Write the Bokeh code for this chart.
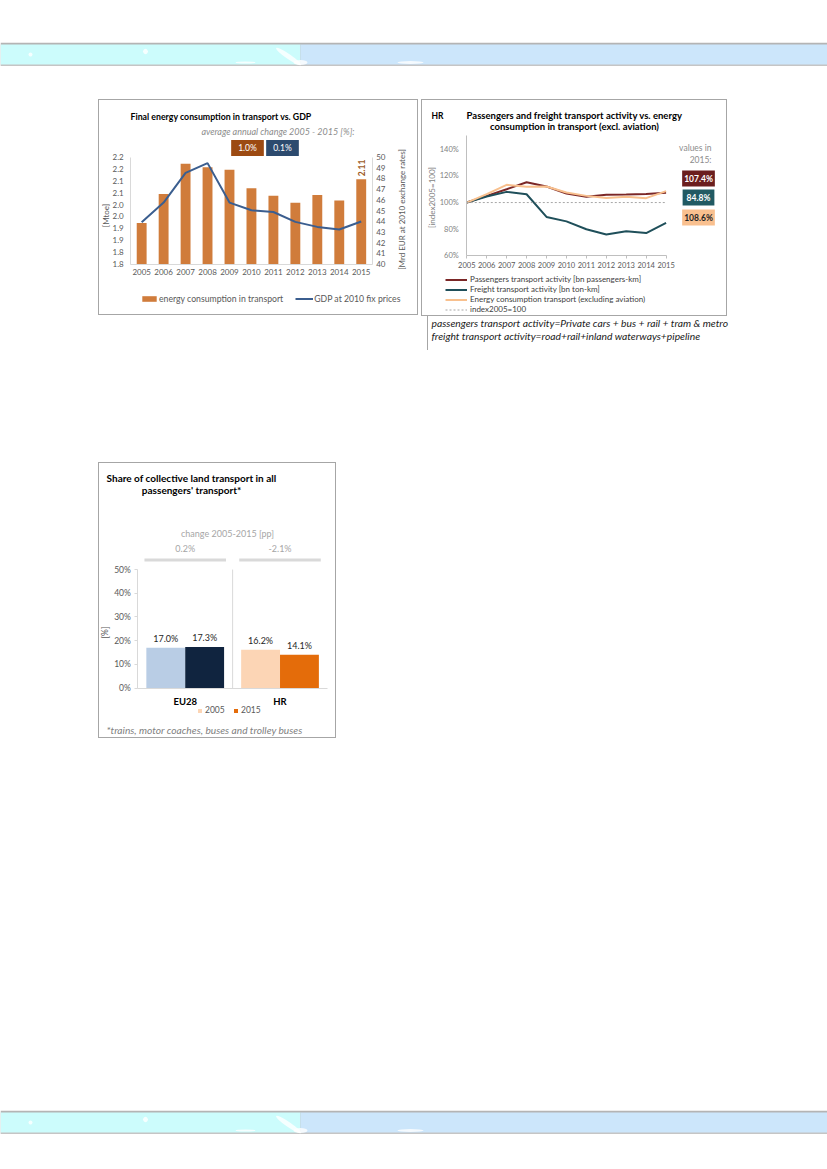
import math
from bokeh.plotting import figure
from bokeh.models import (Range1d, LinearAxis, FixedTicker, Label, Legend, LegendItem,
                          ColumnDataSource, Spacer, PrintfTickFormatter)
from bokeh.layouts import column, row
from bokeh.transform import dodge
from bokeh.core.properties import value
from bokeh.embed import file_html
from bokeh.resources import INLINE

FONT = "Lato"

# ---------------- data: chart 1 (energy vs GDP) ----------------
years = [2005, 2006, 2007, 2008, 2009, 2010, 2011, 2012, 2013, 2014, 2015]
energy_mtoe = [1.923, 2.044, 2.172, 2.157, 2.146, 2.069, 2.037, 2.008, 2.040, 2.017, 2.106]
gdp_bn_eur = [43.91, 45.74, 48.52, 49.43, 45.74, 45.02, 44.86, 43.94, 43.47, 43.22, 43.97]
mtoe_ticks = [1.75, 1.80, 1.85, 1.90, 1.95, 2.00, 2.05, 2.10, 2.15, 2.20]
mtoe_tick_labels = ["1.8", "1.8", "1.9", "1.9", "2.0", "2.0", "2.1", "2.1", "2.2", "2.2"]
gdp_ticks = [40, 41, 42, 43, 44, 45, 46, 47, 48, 49, 50]
avg_change = ["1.0%", "0.1%"]

# ---------------- data: chart 2 (activity index) ----------------
passengers_idx = [100, 105.0, 110.0, 115.2, 112.0, 106.8, 104.3, 105.8, 106.0, 106.5, 107.4]
freight_idx = [100, 104.5, 108.0, 106.2, 89.2, 85.9, 80.0, 76.0, 78.5, 77.1, 84.8]
energy_idx = [100, 106.3, 113.3, 111.8, 112.0, 107.5, 105.0, 103.5, 104.3, 103.3, 108.6]
index_base = [100, 100, 100, 100, 100, 100, 100, 100, 100, 100, 100]
idx_ticks = [60, 80, 100, 120, 140]

# ---------------- data: chart 3 (collective transport share) ----------------
regions = ["EU28", "HR"]
share_2005 = [17.0, 16.2]
share_2015 = [17.3, 14.1]
change_pp = ["0.2%", "-2.1%"]
share_ticks = [0, 10, 20, 30, 40, 50]

BORDER = {"border": "1px solid #a6a6a6"}
GRAY = "#595959"


def span_range(lo, hi, px_before, px_data, px_after):
    """Range whose [lo, hi] part occupies px_data pixels, with margins around it."""
    k = (hi - lo) / px_data
    return Range1d(lo - px_before * k, hi + px_after * k)


def lab(p, x, y, text, size="8px", style="normal", color="#000000", align="left",
        angle=0.0, bg=None, pad=0):
    kw = dict(x=x, y=y, x_units="screen", y_units="screen", text=text,
              text_font=FONT, text_font_size=size, text_font_style=style,
              text_color=color, text_align=align, text_baseline="middle", angle=angle)
    if bg is not None:
        kw.update(background_fill_color=bg, padding=pad)
    l = Label(**kw)
    p.add_layout(l)
    return l


def style_axis(ax, color="#d9d9d9", size="8px"):
    ax.axis_line_color = color
    ax.major_tick_line_color = None
    ax.minor_tick_line_color = None
    ax.major_tick_out = 0
    ax.major_tick_in = 0
    ax.minor_tick_out = 0
    ax.minor_tick_in = 0
    ax.major_label_text_font = FONT
    ax.major_label_text_font_size = size
    ax.major_label_text_color = GRAY


def base_fig(w, h, xr, yr):
    p = figure(width=w, height=h, x_range=xr, y_range=yr, output_backend="svg",
               toolbar_location=None, min_border=0)
    p.styles = BORDER
    p.outline_line_color = None
    p.grid.visible = False
    return p


# ======================= chart 1 =======================
p1 = base_fig(320, 216, span_range(2004.5, 2015.5, 31, 240, 47),
              span_range(1.75, 2.20, 52, 106, 56))
p1.extra_y_ranges = {"gdp": span_range(40, 50, 52, 106, 56)}

src1 = ColumnDataSource(dict(year=years, energy=energy_mtoe, gdp=gdp_bn_eur))
bars1 = p1.vbar(x="year", top="energy", bottom=mtoe_ticks[0], width=0.45, source=src1,
                fill_color="#d07c3b", line_color=None)
line1 = p1.line(x="year", y="gdp", source=src1, y_range_name="gdp",
                line_color="#3b5e8f", line_width=2)
p1.text(x=[years[-1]], y=[energy_mtoe[-1]], text=[f"{energy_mtoe[-1]:.2f}"],
        angle=math.pi / 2, text_align="left", text_baseline="middle", y_offset=-3,
        text_font=value(FONT), text_font_size="8.5px", text_font_style="bold",
        text_color="#9c5a1e")

xa1 = p1.xaxis[0]
xa1.ticker = FixedTicker(ticks=years)
xa1.fixed_location = mtoe_ticks[0]
xa1.bounds = (2004.5, 2015.5)
style_axis(xa1)
xa1.major_label_standoff = 5
ya1 = p1.yaxis[0]
ya1.ticker = FixedTicker(ticks=mtoe_ticks)
ya1.major_label_overrides = {t: s for t, s in zip(mtoe_ticks, mtoe_tick_labels)}
ya1.fixed_location = 2004.5
ya1.bounds = (mtoe_ticks[0], mtoe_ticks[-1])
style_axis(ya1)
ya1.major_label_standoff = 7
ra1 = LinearAxis(y_range_name="gdp", ticker=FixedTicker(ticks=gdp_ticks),
                 fixed_location=2015.5, bounds=(gdp_ticks[0], gdp_ticks[-1]))
style_axis(ra1)
ra1.major_label_standoff = 4
p1.add_layout(ra1, "right")

lab(p1, 31, 200, "Final energy consumption in transport vs. GDP", size="8.75px", style="bold")
lab(p1, 255, 185, "average annual change 2005 - 2015 [%]:", size="9px", style="italic",
    color="#8c8c8c", align="right")
lab(p1, 148, 168.5, avg_change[0], size="8.5px", color="white", align="center",
    bg="#9c4a12", pad=(7, 3))
lab(p1, 183, 168.5, avg_change[1], size="8.5px", color="white", align="center",
    bg="#2c4a6e", pad=(7, 3))
lab(p1, 6, 101, "[Mtoe]", size="8px", color=GRAY, align="center", angle=math.pi / 2)
lab(p1, 302, 107, "[Mrd EUR at 2010 exchange rates]", size="8px", color=GRAY,
    align="center", angle=math.pi / 2)

leg1 = Legend(items=[LegendItem(label="energy consumption in transport", renderers=[bars1]),
                     LegendItem(label="GDP at 2010 fix prices", renderers=[line1])],
              orientation="horizontal", location=(41, 12), glyph_width=18, glyph_height=7,
              label_height=9, label_standoff=1, spacing=12, padding=0, margin=0,
              border_line_color=None, background_fill_alpha=0,
              label_text_font=FONT, label_text_font_size="8.7px", label_text_color=GRAY)
p1.add_layout(leg1)

# ======================= chart 2 =======================
p2 = base_fig(306, 217, span_range(2005, 2015, 44, 198, 62), span_range(60, 150, 61, 119, 35))

src2 = ColumnDataSource(dict(year=years, pas=passengers_idx, fre=freight_idx,
                             ene=energy_idx, base=index_base))
l_pas = p2.line("year", "pas", source=src2, line_color="#7b2727", line_width=2)
l_fre = p2.line("year", "fre", source=src2, line_color="#1f4f5a", line_width=2)
l_ene = p2.line("year", "ene", source=src2, line_color="#f8c08e", line_width=2)
l_base = p2.line("year", "base", source=src2, line_color="#a6a6a6", line_width=1,
                 line_dash="2 2")

xa2 = p2.xaxis[0]
xa2.ticker = FixedTicker(ticks=years)
xa2.fixed_location = 60
xa2.bounds = (2005, 2015)
style_axis(xa2, color="#bfbfbf", size="7.5px")
xa2.major_tick_line_color = "#bfbfbf"
xa2.major_tick_out = 3
xa2.major_label_standoff = 3
ya2 = p2.yaxis[0]
ya2.ticker = FixedTicker(ticks=idx_ticks)
ya2.formatter = PrintfTickFormatter(format="%d%%")
ya2.fixed_location = 2005
ya2.bounds = (60, 150)
style_axis(ya2, color="#bfbfbf", size="7.5px")
ya2.major_label_text_color = "#7f7f7f"
ya2.major_label_standoff = 8

lab(p2, 9, 202, "HR", size="8.5px", style="bold")
lab(p2, 152, 202, "Passengers and freight transport activity vs. energy", size="9.5px",
    style="bold", align="center")
lab(p2, 152, 191, "consumption in transport (excl. aviation)", size="9.5px",
    style="bold", align="center")
lab(p2, 9, 120, "[index2005=100]", size="8px", color="#7f7f7f", align="center",
    angle=math.pi / 2)
lab(p2, 289, 170, "values in", size="8.5px", color="#8c8c8c", align="right")
lab(p2, 289, 158, f"{years[-1]}:", size="8.5px", color="#8c8c8c", align="right")
lab(p2, 276, 139, f"{passengers_idx[-1]:.1f}%", size="8.5px", style="bold", color="white",
    align="center", bg="#6b1e1e", pad=(2, 3))
lab(p2, 276, 120, f"{freight_idx[-1]:.1f}%", size="8.5px", style="bold", color="white",
    align="center", bg="#215a63", pad=(4, 3))
lab(p2, 276, 100, f"{energy_idx[-1]:.1f}%", size="8.5px", style="bold", color="#262626",
    align="center", bg="#f9c08f", pad=(2, 3))

leg2 = Legend(items=[LegendItem(label="Passengers transport activity [bn passengers-km]", renderers=[l_pas]),
                     LegendItem(label="Freight transport activity [bn ton-km]", renderers=[l_fre]),
                     LegendItem(label="Energy consumption transport (excluding aviation)", renderers=[l_ene]),
                     LegendItem(label="index2005=100", renderers=[l_base])],
              orientation="vertical", location=(23, 3), glyph_width=22, glyph_height=7,
              label_height=7, label_standoff=3, spacing=-2, padding=0, margin=0,
              border_line_color=None, background_fill_alpha=0,
              label_text_font=FONT, label_text_font_size="8px", label_text_color="#404040")
p2.add_layout(leg2)

# notes under chart 2
notes = figure(width=320, height=34, x_range=Range1d(0, 1), y_range=Range1d(0, 1),
               output_backend="svg", toolbar_location=None, min_border=0,
               x_axis_type=None, y_axis_type=None)
notes.grid.visible = False
notes.outline_line_color = None
notes.styles = {"border-left": "1px solid #a6a6a6"}
lab(notes, 3, 28, "passengers transport activity=Private cars + bus + rail + tram & metro",
    size="10.3px", style="italic", color="#1a1a1a")
lab(notes, 3, 15, "freight transport activity=road+rail+inland waterways+pipeline",
    size="10.3px", style="italic", color="#1a1a1a")

# ======================= chart 3 =======================
xpos = [i + 0.5 for i in range(len(regions))]
p3 = base_fig(238, 276, span_range(0, len(regions), 38, 188, 10),
              span_range(0, share_ticks[-1], 51, 117.7, 105.3))

src3 = ColumnDataSource(dict(x=xpos, region=regions, v05=share_2005, v15=share_2015,
                             c05=["#b9cde5", "#fcd5b5"], c15=["#10243f", "#e46c0a"],
                             t05=[f"{v:.1f}%" for v in share_2005],
                             t15=[f"{v:.1f}%" for v in share_2015],
                             chg=change_pp))
r05 = p3.vbar(x=dodge("x", -0.205), top="v05", width=0.41,
              source=src3, fill_color="c05", line_color=None)
r15 = p3.vbar(x=dodge("x", 0.205), top="v15", width=0.41,
              source=src3, fill_color="c15", line_color=None)
for key, off in (("05", -0.205), ("15", 0.205)):
    p3.text(x=dodge("x", off), y="v" + key, text="t" + key,
            source=src3, text_align="center", text_baseline="bottom", y_offset=-4,
            text_font=value(FONT), text_font_size="9px", text_color="#262626")
# category separator limited to the value scale
p3.segment(x0=[1], y0=[0], x1=[1], y1=[share_ticks[-1]], line_color="#d9d9d9", line_width=1)
# change labels above each group
p3.rect(x="x", y=54, width=0.86, height=3, height_units="screen", source=src3,
        fill_color="#d9d9d9", line_color=None)
p3.text(x="x", y=58.9, text="chg", source=src3, text_align="center",
        text_baseline="middle", text_font=value(FONT), text_font_size="9px",
        text_color="#a6a6a6")

xa3 = p3.xaxis[0]
xa3.ticker = FixedTicker(ticks=xpos)
xa3.major_label_overrides = {x: r for x, r in zip(xpos, regions)}
xa3.fixed_location = 0
xa3.bounds = (0, len(regions))
style_axis(xa3)
xa3.major_label_text_font_style = "bold"
xa3.major_label_text_color = "#000000"
xa3.major_label_text_font_size = "9.5px"
xa3.major_label_standoff = 8
ya3 = p3.yaxis[0]
ya3.ticker = FixedTicker(ticks=share_ticks)
ya3.formatter = PrintfTickFormatter(format="%d%%")
ya3.fixed_location = 0
ya3.bounds = (0, share_ticks[-1])
style_axis(ya3, size="8.5px")
ya3.major_tick_line_color = "#d9d9d9"
ya3.major_tick_out = 3
ya3.major_label_standoff = 4

lab(p3, 92, 262, "Share of collective land transport in all", size="10px", style="bold",
    align="center")
lab(p3, 92, 250, "passengers' transport*", size="10px", style="bold", align="center")
lab(p3, 128, 206, "change 2005-2015 [pp]", size="9px", color="#a6a6a6", align="center")
lab(p3, 5, 107, "[%]", size="8.5px", color=GRAY, align="center", angle=math.pi / 2)
lab(p3, 7, 10, "*trains, motor coaches, buses and trolley buses", size="10.2px",
    style="italic", color="#7f7f7f")

leg3 = Legend(items=[LegendItem(label="2005", renderers=[r05], index=1),
                     LegendItem(label="2015", renderers=[r15], index=1)],
              orientation="horizontal", location=(98, 24), glyph_width=5, glyph_height=5,
              label_height=8, label_standoff=3, spacing=8, padding=0, margin=0,
              border_line_color=None, background_fill_alpha=0,
              label_text_font=FONT, label_text_font_size="8.5px", label_text_color=GRAY)
p3.add_layout(leg3)


# ======================= page bands =======================
def band():
    b = figure(width=827, height=24, x_range=Range1d(0, 827), y_range=Range1d(24, 0),
               output_backend="svg", toolbar_location=None, min_border=0,
               x_axis_type=None, y_axis_type=None)
    b.grid.visible = False
    b.outline_line_color = None
    b.quad(left=[0], right=[827], top=[0], bottom=[24], fill_color="#b4b4b4", line_color=None)
    b.quad(left=[0], right=[827], top=[22], bottom=[23], fill_color="#d6d6d6", line_color=None)
    b.quad(left=[0], right=[300], top=[2], bottom=[22], fill_color="#ccfcfc", line_color=None)
    b.quad(left=[300], right=[827], top=[2], bottom=[22], fill_color="#cce6fb", line_color=None)
    b.ellipse(x=[288, 300, 410, 30, 145, 245], y=[14, 20, 20, 12, 9, 20],
              width=[30, 14, 26, 4, 5, 20], height=[5, 5, 3, 4, 5, 2],
              angle=[-0.6, 0, 0, 0.8, 0.8, 0],
              fill_color="white", fill_alpha=0.8, line_color=None)
    return b


header = band()
footer = band()

top_row = row(Spacer(width=98, height=10), p1, Spacer(width=3, height=10),
              column(p2, row(Spacer(width=6, height=10), notes)))
bottom_row = row(Spacer(width=98, height=10), p3)

page = column(Spacer(width=10, height=42), header, Spacer(width=10, height=33), top_row,
              Spacer(width=10, height=112), bottom_row, Spacer(width=10, height=372), footer)

open("out.html", "w").write(file_html(page, INLINE))
